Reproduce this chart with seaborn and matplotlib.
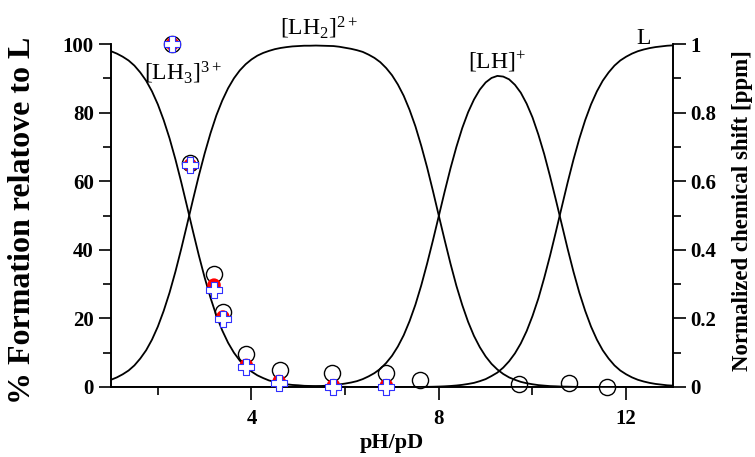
import matplotlib
matplotlib.use("Agg")
import matplotlib.pyplot as plt
import seaborn as sns
import pandas as pd

# ---------------- data ----------------
# pH sampling grid, 1 .. 13 in steps of 0.125
ph = [1 + 0.125 * i for i in range(97)]

# % formation
lh3 = [97.9, 97.2, 96.3, 95.2, 93.7, 91.7, 89.3, 86.2, 82.4, 77.8, 72.5, 66.4, 59.7, 52.6,
       45.4, 38.4, 31.9, 26.0, 20.8, 16.5, 12.9, 10.0, 7.7, 5.9, 4.5, 3.4, 2.6, 1.9, 1.5,
       1.1, 0.8, 0.6, 0.5, 0.35, 0.3, 0.2, 0.15, 0.11, 0.08, 0.06, 0.05] + [0] * 56
lh2 = [2.1, 2.8, 3.7, 4.8, 6.3, 8.3, 10.7, 13.8, 17.6, 22.2, 27.5, 33.6, 40.3, 47.4, 54.6,
       61.6, 68.1, 74.0, 79.2, 83.5, 87.1, 90.0, 92.3, 94.1, 95.5, 96.6, 97.4, 98.0, 98.5,
       98.85, 99.1, 99.3, 99.4, 99.5, 99.5, 99.55, 99.5, 99.45, 99.4, 99.2, 98.9, 98.6,
       98.2, 97.7, 96.9, 95.95, 94.7, 93.0, 90.9, 88.2, 84.9, 80.8, 76.0, 70.3, 64.0, 57.1,
       49.9, 42.8, 35.9, 29.5, 23.9, 19.0, 14.9, 11.6, 8.9, 6.75, 5.1, 3.8, 2.8, 2.1, 1.5,
       1.1, 0.8, 0.55, 0.4, 0.26, 0.2, 0.12, 0.1, 0.05, 0.03] + [0] * 16
lh1 = [0] * 28 + [0.03, 0.04, 0.06, 0.07, 0.1, 0.13, 0.18, 0.24, 0.3, 0.42, 0.56, 0.75,
                  1.0, 1.3, 1.7, 2.3, 3.1, 4.05, 5.3, 7.0, 9.1, 11.8, 15.1, 19.2, 24.0,
                  29.65, 36.0, 42.8, 49.9, 57.0, 63.8, 70.0, 75.5, 80.1, 83.8, 86.7, 88.8,
                  90.1, 90.7, 90.5, 89.7, 88.1, 85.8, 82.6, 78.6, 73.6, 67.9, 61.4, 54.5,
                  47.4, 40.3, 33.6, 27.5, 22.2, 17.6, 13.8, 10.7, 8.3, 6.3, 4.8, 3.7, 2.8,
                  2.1, 1.6, 1.2, 0.9, 0.7, 0.5, 0.4]
l0 = [0] * 53 + [0.03, 0.05, 0.08, 0.13, 0.2, 0.3, 0.44, 0.63, 0.89, 1.2, 1.7, 2.3, 3.2,
                 4.2, 5.65, 7.5, 9.8, 12.7, 16.3, 20.7, 25.8, 31.8, 38.3, 45.3, 52.5, 59.6,
                 66.3, 72.4, 77.8, 82.4, 86.2, 89.3, 91.7, 93.7, 95.2, 96.3, 97.2, 97.9,
                 98.4, 98.8, 99.1, 99.3, 99.5, 99.6]

# normalized chemical shift (open circles, right axis)
shift_ph = [2.31, 2.69, 3.20, 3.39, 3.89, 4.60, 5.72, 6.88, 7.59, 9.71, 10.79, 11.59]
shift_val = [1.0, 0.653, 0.329, 0.219, 0.096, 0.05, 0.04, 0.04, 0.02, 0.01, 0.012, 0.0]

# % formation from integration (red filled / blue-edged plus)
red_ph = [2.31, 2.69, 3.20, 3.39, 3.89, 4.59, 5.75, 6.88]
red_val = [100, 64.7, 29.7, 20.4, 6.3, 1.6, 0.4, 0.4]
plus_ph = [2.31, 2.69, 3.20, 3.39, 3.89, 4.59, 5.75, 6.88]
plus_val = [100, 64.7, 28.3, 19.8, 5.8, 1.2, 0.0, 0.0]

species_labels = ["[LH$_3$]$^{3+}$", "[LH$_2$]$^{2+}$", "[LH]$^{+}$", "L"]
species_pos = [(2.54, 91.5), (5.44, 104.7), (9.24, 94.8), (12.37, 101.7)]

x_ticks = [4, 8, 12]
x_minor = [2, 6, 10]
left_ticks = [0, 20, 40, 60, 80, 100]
left_minor = [10, 30, 50, 70, 90]
right_ticks = [0, 0.2, 0.4, 0.6, 0.8, 1.0]
right_tick_labels = ["0", "0.2", "0.4", "0.6", "0.8", "1"]
right_minor = [0.1, 0.3, 0.5, 0.7, 0.9]

# ---------------- style ----------------
sns.set_style("ticks")
plt.rcParams["font.family"] = ["Liberation Serif", "DejaVu Serif"]
plt.rcParams["mathtext.fontset"] = "custom"
plt.rcParams["mathtext.rm"] = "Liberation Serif"
plt.rcParams["mathtext.it"] = "Liberation Serif:italic"
plt.rcParams["mathtext.bf"] = "Liberation Serif:bold"
for key in ["text.color", "axes.labelcolor", "xtick.color", "ytick.color", "axes.edgecolor"]:
    plt.rcParams[key] = "black"

fig = plt.figure(figsize=(7.55, 4.57), dpi=100)
ax = fig.add_axes([111 / 755, 1 - 387 / 457, (673 - 111) / 755, (387 - 44) / 457])

n = len(ph)
curves = pd.DataFrame({"pH": ph * 4,
                       "pct": lh3 + lh2 + lh1 + l0,
                       "species": ["LH3"] * n + ["LH2"] * n + ["LH"] * n + ["L"] * n})
sns.lineplot(data=curves, x="pH", y="pct", units="species", estimator=None,
             color="black", lw=1.3, ax=ax, legend=False)

ax2 = ax.twinx()
sns.scatterplot(x=shift_ph, y=shift_val, ax=ax2, marker="o", s=135,
                facecolor="white", edgecolor="black", linewidth=1.0, clip_on=False, zorder=3)
sns.scatterplot(x=red_ph, y=red_val, ax=ax, marker="o", s=95, color="#ff0000",
                edgecolor="none", linewidth=0, clip_on=False, zorder=4)
sns.scatterplot(x=plus_ph, y=plus_val, ax=ax, marker="P", s=120, facecolor="white",
                edgecolor="#3030ff", linewidth=0.8, clip_on=False, zorder=5)
ax.set_zorder(ax2.get_zorder() + 1)
ax.patch.set_visible(False)

for lab, (xx, yy) in zip(species_labels, species_pos):
    ax.text(xx, yy, lab, ha="center", va="center", fontsize=17, color="black", clip_on=False)

ax.set_xlim(1, 13)
ax.set_ylim(0, 100)
ax2.set_ylim(0, 1)

ax.set_xticks(x_ticks)
ax.set_xticks(x_minor, minor=True)
ax.set_yticks(left_ticks)
ax.set_yticks(left_minor, minor=True)
ax2.set_yticks(right_ticks)
ax2.set_yticklabels(right_tick_labels)
ax2.set_yticks(right_minor, minor=True)

for a in (ax, ax2):
    a.spines["top"].set_visible(False)
    for s in a.spines.values():
        s.set_linewidth(1.2)
        s.set_color("black")
    a.tick_params(which="major", length=9, width=1.2, direction="out", labelsize=15,
                  color="black", labelcolor="black")
    a.tick_params(which="minor", length=5.5, width=1.2, direction="out", color="black")
    for t in a.get_xticklabels() + a.get_yticklabels():
        t.set_fontweight("bold")
ax.tick_params(axis="x", which="major", pad=6.5)
ax.tick_params(axis="y", which="major", pad=3.5)
ax2.tick_params(axis="y", which="major", pad=3.5)

ax.set_xlabel("pH/pD", fontsize=16, fontweight="bold", color="black")
ax.set_ylabel("% Formation relatove to L", fontsize=23, fontweight="bold", color="black")
ax2.set_ylabel("Normalized chemical shift [ppm]", fontsize=16.5, fontweight="bold", color="black")
ax.xaxis.set_label_coords(0.5, -0.135)
ax.yaxis.set_label_coords(-0.132, 0.487)
ax2.yaxis.set_label_coords(1.105, 0.513)

fig.savefig("out.png", dpi=100)
